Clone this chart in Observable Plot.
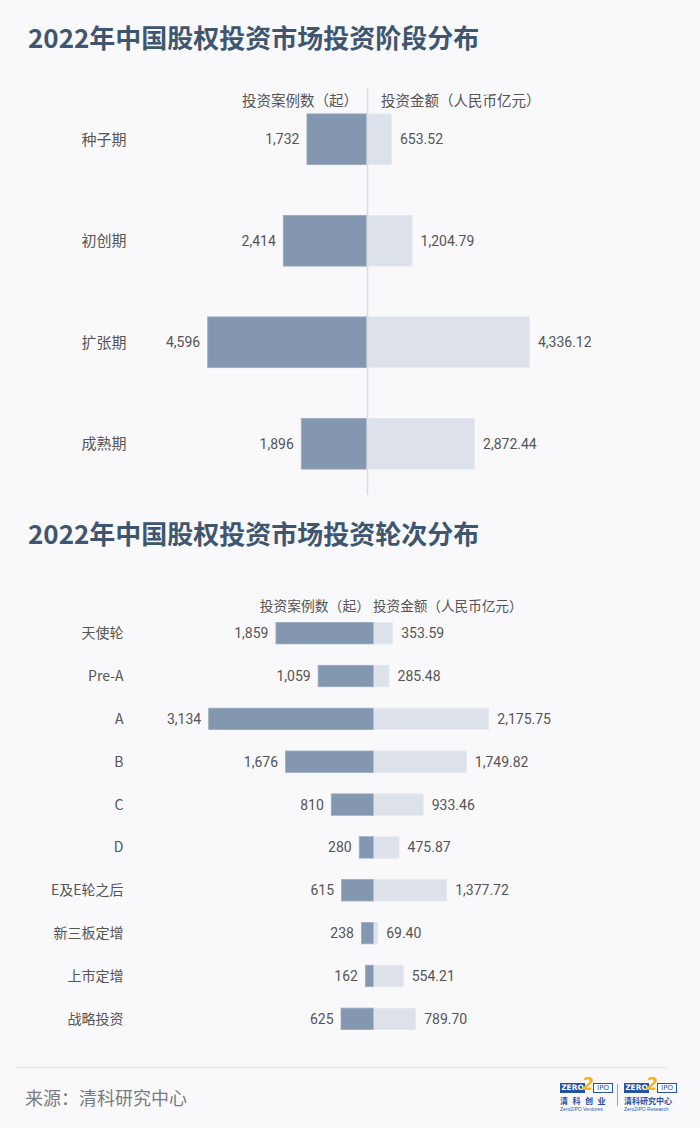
<!DOCTYPE html>
<html><head><meta charset="utf-8">
<script src="https://cdn.jsdelivr.net/npm/d3@7"></script>
<script src="https://cdn.jsdelivr.net/npm/@observablehq/plot@0.6"></script>
<style>
html,body{margin:0;padding:0;background:#f9f9fb;}
#page{position:relative;width:700px;height:1128px;overflow:hidden;background:#f9f9fb;font-family:Roboto,"Noto Sans CJK SC",sans-serif;}
.title{position:absolute;left:28px;font-family:"Noto Sans CJK SC",sans-serif;font-weight:700;font-size:26px;color:#3f5670;line-height:26px;white-space:nowrap;}
.hdr{position:absolute;font-family:"Noto Sans CJK SC",sans-serif;color:#555;white-space:nowrap;line-height:1;}
.chart{position:absolute;left:0;}
.lg{position:absolute;width:54px;font-family:"Noto Sans CJK SC",sans-serif;color:#2452a0;}
.lg .r1{position:relative;height:11px;}
.lg .zero{position:absolute;left:0;top:0;width:25px;height:10px;background:#2653a0;color:#fff;font:bold 7.5px/10px "DejaVu Sans",sans-serif;text-align:center;}
.lg .ipo{position:absolute;left:33px;top:0;width:18px;height:8px;border:1px solid #2653a0;color:#2653a0;font:7px/8px "DejaVu Sans",sans-serif;text-align:center;background:#fff;}
.lg .two{position:absolute;left:22px;top:-7px;color:#f2b51e;font:italic bold 17px/17px "DejaVu Sans",sans-serif;}
.lg .r2{font-weight:700;font-size:8px;line-height:10px;margin-top:2px;white-space:nowrap;}
.lg .r3{font-size:5px;line-height:6px;white-space:nowrap;color:#2f5aa5;font-family:"Liberation Sans",sans-serif;}
</style></head><body>
<div id="page">
  <div class="title" style="top:24px">2022年中国股权投资市场投资阶段分布</div>
  <div class="hdr" style="top:93px;right:342px;font-size:14.5px">投资案例数（起）</div>
  <div class="hdr" style="top:93px;left:381px;font-size:14.5px">投资金额（人民币亿元）</div>
  <div class="chart" id="c1" style="top:80px"></div>

  <div class="title" style="top:520px">2022年中国股权投资市场投资轮次分布</div>
  <div class="hdr" style="top:599px;right:330px;font-size:13.8px">投资案例数（起）</div>
  <div class="hdr" style="top:599px;left:373px;font-size:13.6px">投资金额（人民币亿元）</div>
  <div class="chart" id="c2" style="top:611px"></div>

  <div style="position:absolute;left:16px;top:1067px;width:651px;height:1px;background:#e1e2e6"></div>
  <div style="position:absolute;left:25px;top:1087px;font-family:'Noto Sans CJK SC',sans-serif;font-size:18px;line-height:20px;color:#7b7b7b">来源：清科研究中心</div>

  <div class="lg" style="left:560px;top:1083px">
    <div class="r1"><div class="zero">ZERO</div><div class="ipo">IPO</div><div class="two">2</div></div>
    <div class="r2" style="letter-spacing:4.5px">清科创业</div>
    <div class="r3">Zero2IPO Ventures</div>
  </div>
  <div style="position:absolute;left:617px;top:1084px;width:1px;height:22px;background:#9aa3b5"></div>
  <div class="lg" style="left:624px;top:1083px">
    <div class="r1"><div class="zero">ZERO</div><div class="ipo">IPO</div><div class="two">2</div></div>
    <div class="r2">清科研究中心</div>
    <div class="r3">Zero2IPO Research</div>
  </div>
</div>
<script>
// ---- Data ----
const stages = ["种子期", "初创期", "扩张期", "成熟期"];
const stageCounts = [1732, 2414, 4596, 1896];
const stageAmounts = [653.52, 1204.79, 4336.12, 2872.44];

const rounds = ["天使轮", "Pre-A", "A", "B", "C", "D", "E及E轮之后", "新三板定增", "上市定增", "战略投资"];
const roundCounts = [1859, 1059, 3134, 1676, 810, 280, 615, 238, 162, 625];
const roundAmounts = [353.59, 285.48, 2175.75, 1749.82, 933.46, 475.87, 1377.72, 69.40, 554.21, 789.70];

const fmtCount = d3.format(",");
const fmtAmount = d3.format(",.2f");
const DARK = "#8497b0", LIGHT = "#dde2ea", TXT = "#555";
const font = 'Roboto, "Noto Sans CJK SC", sans-serif';

// ---- Chart 1: stages (separate half-scales for counts and amounts) ----
const stageRows = stages.map((s, i) => ({stage: s, count: stageCounts[i], amount: stageAmounts[i]}));
const countMax = 5770, amountMax = 5340;
const c1 = Plot.plot({
  width: 700, height: 415,
  marginTop: 8, marginBottom: 0, marginLeft: 167, marginRight: 133,
  style: {background: "transparent", fontFamily: font, fontSize: "14px", color: TXT},
  x: {domain: [-1, 1], axis: null},
  y: {domain: stages, paddingInner: 0.5, paddingOuter: 0.255, round: false, axis: null},
  marks: [
    Plot.barX(stageRows, {y: "stage", x1: 0, x2: d => -d.count / countMax, fill: DARK, stroke: "#9aaac0", strokeWidth: 0.8}),
    Plot.barX(stageRows, {y: "stage", x1: 0, x2: d => d.amount / amountMax, fill: LIGHT, stroke: "#e6e9f0", strokeWidth: 0.8}),
    Plot.ruleX([0], {stroke: "#d9dce3", strokeWidth: 1.5}),
    Plot.text(stageRows, {y: "stage", x: d => -d.count / countMax, text: d => fmtCount(d.count), dx: -8, textAnchor: "end", fontSize: 14, fill: TXT}),
    Plot.text(stageRows, {y: "stage", x: d => d.amount / amountMax, text: d => fmtAmount(d.amount), dx: 8, textAnchor: "start", fontSize: 14, fill: TXT}),
    Plot.axisY({tickSize: 0, tickPadding: 41, fontSize: 15, color: TXT, fontFamily: '"Noto Sans CJK SC", sans-serif', label: null})
  ]
});
document.getElementById("c1").appendChild(c1);

// ---- Chart 2: rounds (shared scale) ----
const roundRows = rounds.map((r, i) => ({round: r, count: roundCounts[i], amount: roundAmounts[i]}));
const c2 = Plot.plot({
  width: 700, height: 430,
  marginTop: 0, marginBottom: 0, marginLeft: 163, marginRight: 115,
  style: {background: "transparent", fontFamily: font, fontSize: "14px", color: TXT},
  x: {domain: [-4000, 4000], axis: null},
  y: {domain: rounds, paddingInner: 0.5, paddingOuter: 0.2675, round: false, axis: null},
  marks: [
    Plot.barX(roundRows, {y: "round", x1: 0, x2: d => -d.count, fill: DARK, stroke: "#9aaac0", strokeWidth: 0.8}),
    Plot.barX(roundRows, {y: "round", x1: 0, x2: "amount", fill: LIGHT, stroke: "#e6e9f0", strokeWidth: 0.8}),
    Plot.text(roundRows, {y: "round", x: d => -d.count, text: d => fmtCount(d.count), dx: -8, textAnchor: "end", fontSize: 14, fill: TXT}),
    Plot.text(roundRows, {y: "round", x: "amount", text: d => fmtAmount(d.amount), dx: 8, textAnchor: "start", fontSize: 14, fill: TXT}),
    Plot.axisY({tickSize: 0, tickPadding: 40, fontSize: 14, color: TXT, fontFamily: '"Noto Sans CJK SC", sans-serif', label: null})
  ]
});
document.getElementById("c2").appendChild(c2);
</script>
</body></html>
